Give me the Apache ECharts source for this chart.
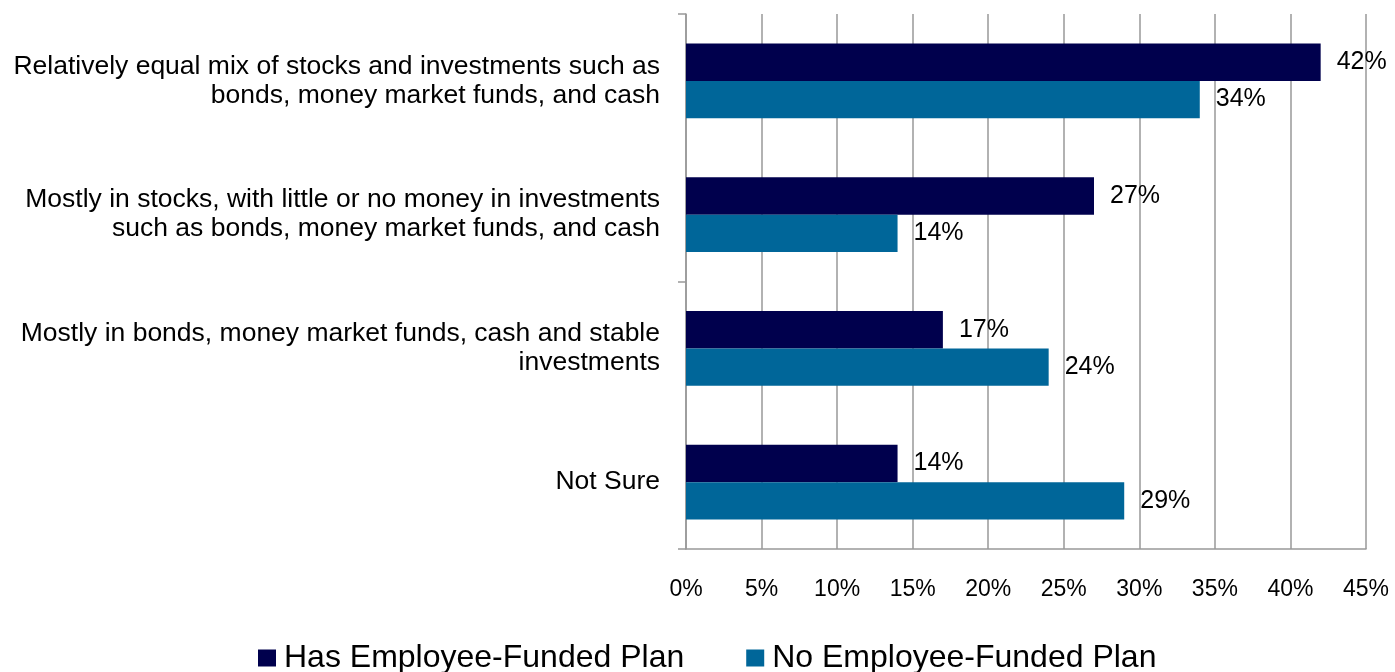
<!DOCTYPE html>
<html>
<head>
<meta charset="utf-8">
<script src="https://cdn.jsdelivr.net/npm/echarts@6/dist/echarts.min.js"></script>
<style>
  html, body { margin: 0; padding: 0; background: #fff; }
  #chart { width: 1395px; height: 672px; }
</style>
</head>
<body>
<div id="chart"></div>
<script>
// categories, top to bottom
var categories = [
    'Relatively equal mix of stocks and investments such as\nbonds, money market funds, and cash',
    'Mostly in stocks, with little or no money in investments\nsuch as bonds, money market funds, and cash',
    'Mostly in bonds, money market funds, cash and stable\ninvestments',
    'Not Sure'
];
var seriesNames = ['Has Employee-Funded Plan', 'No Employee-Funded Plan'];
var hasPlan = [42, 27, 17, 14];
var noPlan = [34, 14, 24, 29];

var chart = echarts.init(document.getElementById('chart'));
var font = 'Arial, "Liberation Sans", sans-serif';

var labelOpt = {
    show: true,
    position: 'right',
    distance: 16,
    formatter: '{c}%',
    color: '#000',
    fontSize: 25,
    fontFamily: font
};

var option = {
    animation: false,
    grid: { left: 686, right: 29, top: 14, bottom: 123, containLabel: false },
    legend: {
        bottom: -7,
        left: 253,
        itemWidth: 18,
        itemHeight: 17,
        itemGap: 62,
        icon: 'rect',
        textStyle: { fontSize: 32, fontFamily: font, color: '#000', padding: [0, 0, 0, 3] },
        data: seriesNames
    },
    xAxis: {
        type: 'value',
        min: 0,
        max: 45,
        interval: 5,
        axisLine: { show: true, lineStyle: { color: '#999', width: 1.5 } },
        axisTick: { show: false },
        splitLine: { show: true, lineStyle: { color: '#999', width: 1.5 } },
        axisLabel: {
            formatter: '{value}%',
            margin: 29,
            fontSize: 23,
            fontFamily: font,
            color: '#000'
        }
    },
    yAxis: {
        type: 'category',
        inverse: true,
        data: categories,
        axisLine: { show: true, lineStyle: { color: '#999', width: 1.5 } },
        axisTick: { show: true, interval: 1, length: 8, lineStyle: { color: '#999', width: 1.5 } },
        axisLabel: {
            margin: 26,
            fontSize: 26.5,
            lineHeight: 29,
            align: 'right',
            fontFamily: font,
            color: '#000'
        }
    },
    series: [
        {
            name: seriesNames[0],
            type: 'bar',
            data: hasPlan,
            barGap: 0,
            barCategoryGap: '44%',
            itemStyle: { color: '#00004d' },
            label: labelOpt
        },
        {
            name: seriesNames[1],
            type: 'bar',
            data: noPlan,
            barGap: 0,
            barCategoryGap: '44%',
            itemStyle: { color: '#006699' },
            label: labelOpt
        }
    ]
};
chart.setOption(option);
</script>
</body>
</html>
